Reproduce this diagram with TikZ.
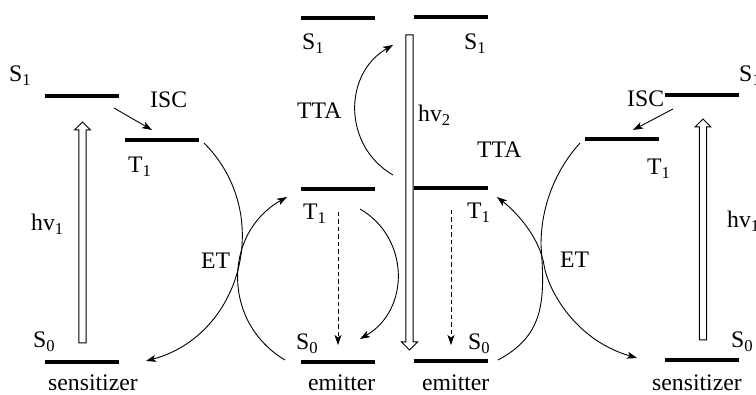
\documentclass[tikz,border=0pt]{standalone}
\usepackage{fontspec}
\setmainfont{Liberation Serif}
\usetikzlibrary{arrows.meta,calc}
\newcommand\hollowup[2]{%
  \draw[hollow] ($(#1)+(-3.6,0)$) -- ($(#2)+(-3.6,8)$) -- ($(#2)+(-8,8)$) -- (#2)
    -- ($(#2)+(8,8)$) -- ($(#2)+(3.6,8)$) -- ($(#1)+(3.6,0)$) -- cycle;}
\newcommand\hollowdown[2]{%
  \draw[hollow] ($(#1)+(-3.6,0)$) -- ($(#2)+(-3.6,-8)$) -- ($(#2)+(-8,-8)$) -- (#2)
    -- ($(#2)+(8,-8)$) -- ($(#2)+(3.6,-8)$) -- ($(#1)+(3.6,0)$) -- cycle;}
\begin{document}
\begin{tikzpicture}[x=1pt,y=-1pt,
  lvl/.style={fill=black,minimum width=74pt,minimum height=4.2pt,inner sep=0pt,outer sep=0pt},
  lbl/.style={anchor=base west,inner sep=0pt,font=\fontsize{23.7}{28}\selectfont},
  tip/.style={-{Stealth[length=10pt,width=7pt,inset=2.5pt]}},
  conn/.style={line width=0.9pt,tip},
  plainline/.style={line width=0.9pt},
  dashedarr/.style={line width=0.8pt,dash pattern=on 4.5pt off 3pt,tip},
  hollow/.style={draw,line width=1pt,fill=white,line join=miter}]
\useasboundingbox (0,0) rectangle (756,395);

% ---------- levels ----------
\node[lvl] (lS1) at (81.5,96) {};
\node[lvl] (lT1) at (162,140) {};
\node[lvl] (lS0) at (81.5,362) {};
\node[lvl] (eS1) at (338,18) {};
\node[lvl] (eT1) at (338,189) {};
\node[lvl] (eS0) at (338,362) {};
\node[lvl] (fS1) at (451,17) {};
\node[lvl] (fT1) at (451,188) {};
\node[lvl] (fS0) at (451,361) {};
\node[lvl] (rS1) at (701.5,95) {};
\node[lvl] (rT1) at (621.5,139) {};
\node[lvl] (rS0) at (701.5,360) {};

% ---------- labels ----------
\node[lbl] (tlS1) at (9,82) {S\textsubscript{1}};
\node[lbl] (tlISC) at (150,108) {ISC};
\node[lbl] (tlT1) at (128,173) {T\textsubscript{1}};
\node[lbl] (tlhv) at (31,231) {hv\textsubscript{1}};
\node[lbl] (tlS0) at (33,348) {S\textsubscript{0}};
\node[lbl] (tlsens) at (48,391) {sensitizer};
\node[lbl] (tlET) at (201,269) {ET};
\node[lbl] (teS1) at (302,50) {S\textsubscript{1}};
\node[lbl] (teTTA) at (297,119) {TTA};
\node[lbl] (teT1) at (303,220) {T\textsubscript{1}};
\node[lbl] (teS0) at (296,350) {S\textsubscript{0}};
\node[lbl] (teem) at (308,391) {emitter};
\node[lbl] (thv2) at (418,122) {hv\textsubscript{2}};
\node[lbl] (tfS1) at (464,50) {S\textsubscript{1}};
\node[lbl] (tfTTA) at (477,158) {TTA};
\node[lbl] (tfT1) at (467,219) {T\textsubscript{1}};
\node[lbl] (tfS0) at (468,350) {S\textsubscript{0}};
\node[lbl] (tfem) at (422,391) {emitter};
\node[lbl] (trISC) at (627,107) {ISC};
\node[lbl] (trS1) at (739,82) {S\textsubscript{1}};
\node[lbl] (trT1) at (647,175) {T\textsubscript{1}};
\node[lbl] (trhv) at (727,228) {hv\textsubscript{1}};
\node[lbl] (trS0) at (731,348) {S\textsubscript{0}};
\node[lbl] (trsens) at (652,391) {sensitizer};
\node[lbl] (trET) at (560,268) {ET};

% ---------- connector end points ----------
\coordinate (iscL1) at (114,108); \coordinate (iscL2) at (152,130);
\coordinate (iscR1) at (673,109); \coordinate (iscR2) at (633,130);
\coordinate (hvL1) at (82.5,343); \coordinate (hvL2) at (82.5,122);
\coordinate (hvR1) at (703,340); \coordinate (hvR2) at (703,119);
\coordinate (hv21) at (409.5,35); \coordinate (hv22) at (409.5,350);
\coordinate (dL1) at (338,212); \coordinate (dL2) at (338,345);
\coordinate (dR1) at (451,210); \coordinate (dR2) at (451,345);
\coordinate (tta1) at (393,175); \coordinate (tta2) at (393,45);
\coordinate (em1) at (360,209); \coordinate (em2) at (360,339);
\coordinate (a1) at (204,143); \coordinate (a2) at (146,361);
\coordinate (b1) at (285,360); \coordinate (b2) at (287,197);
\coordinate (r1a) at (580,143); \coordinate (r1m) at (541,245); \coordinate (r1b) at (498,360);
\coordinate (r2a) at (497,197); \coordinate (r2m) at (544,265); \coordinate (r2b) at (637,358);

% ---------- connectors ----------
\draw[conn] (iscL1) -- (iscL2);
\draw[conn] (iscR1) -- (iscR2);
\hollowup{hvL1}{hvL2}
\hollowup{hvR1}{hvR2}
\hollowdown{hv21}{hv22}
\draw[dashedarr] (dL1) -- (dL2);
\draw[dashedarr] (dR1) -- (dR2);
\draw[conn] (tta1) to[bend left=60,looseness=1.14] (tta2);
\draw[conn] (em1) to[bend left=60,looseness=1.14] (em2);
\draw[conn] (a1) to[bend left=60,looseness=1.13] (a2);
\draw[conn] (b1) to[bend left=60,looseness=1.15] (b2);
\draw[plainline] (r1a) .. controls (560,165) and (541,200) .. (r1m)
  .. controls (545,300) and (545,335) .. (r1b);
\draw[line width=0.9pt,{Stealth[length=10pt,width=7pt,inset=2.5pt]}-{Stealth[length=10pt,width=7pt,inset=2.5pt]}]
  (r2a) .. controls (520,215) and (540,240) .. (r2m)
  .. controls (548,290) and (575,340) .. (r2b);
\end{tikzpicture}
\end{document}
